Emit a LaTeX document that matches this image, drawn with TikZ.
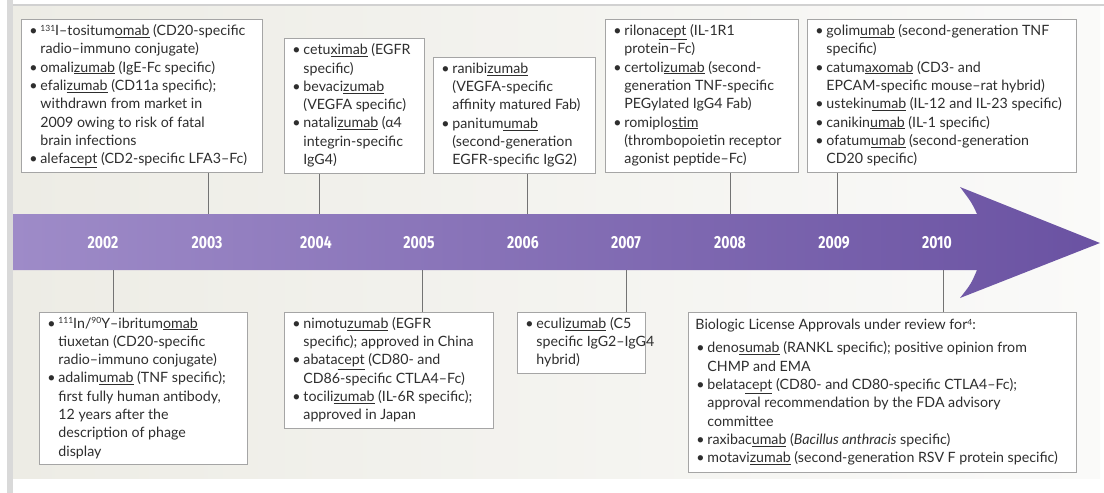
\documentclass[tikz,border=0pt]{standalone}
\usepackage{fontspec}
\setmainfont{Lato}
\newfontfamily\yearfont[FakeStretch=0.8]{Fira Sans}
\usetikzlibrary{calc}
\definecolor{bgL}{HTML}{EDECE5}
\definecolor{bgR}{HTML}{FAFAF9}
\definecolor{bandL}{HTML}{9E8BC8}
\definecolor{bandM}{HTML}{7B65AF}
\definecolor{bandR}{HTML}{6A52A2}
\definecolor{rim}{HTML}{A5A5A5}
\definecolor{ink}{HTML}{2E2E2E}

\newcommand{\itm}{\makebox[12pt][l]{\hspace*{1pt}\textbullet}}
\newcommand{\cnt}{\hspace*{12pt}}
\newcommand{\sups}[1]{\raisebox{0.6ex}{\fontsize{8.5}{8.5}\selectfont #1}}
\newcommand{\boxlines}[2]{\makebox[#1][l]{\begin{tabular}{@{}l@{}}#2\end{tabular}}}

\tikzset{
  infobox/.style={draw=rim, fill=white, line width=0.9pt, anchor=north west,
    inner xsep=7pt, inner ysep=0pt, text=ink,
    font=\fontsize{14.2}{18.3}\selectfont},
  tickline/.style={draw=black!55, line width=0.9pt},
  yearlabel/.style={text=white, font=\yearfont\bfseries\fontsize{17.5}{17.5}\selectfont},
}

\begin{document}
\begin{tikzpicture}[x=1pt, y=-1pt]
  \useasboundingbox (0,0) rectangle (1104,493);
  \def\Bt{214} \def\Bb{270}

  \fill[white] (0,0) rectangle (1104,493);
  \shade[left color=bgL, right color=bgR] (13,6) rectangle (1100,478);
  \fill[black!15] (7,0) rectangle (13,493);
  \draw[black!18, line width=1.5pt] (13,5) -- (1104,5);

  % timeline arrow
  \shade[left color=bandL, middle color=bandM, right color=bandR]
    (13,\Bt) -- (977,\Bt) .. controls (972,203) .. (960,187) -- (1100,243)
    -- (960,298) .. controls (971,284) .. (977,\Bb) -- (13,\Bb) -- cycle;

  \foreach \yr/\xx in {2002/103, 2003/207, 2004/316, 2005/419, 2006/523,
                       2007/626, 2008/730, 2009/834, 2010/937}
    \node[yearlabel] (y\yr) at (\xx,243) {\yr};

  \node[infobox, minimum height=153pt] (n2003) at (21,19) {\boxlines{227pt}{%
    \itm\sups{131}I--tositum\underline{omab} (CD20-specific\\
    \cnt radio--immuno conjugate)\\
    \itm omali\underline{zumab} (IgE-Fc specific)\\
    \itm efali\underline{zumab} (CD11a specific);\\
    \cnt withdrawn from market in\\
    \cnt 2009 owing to risk of fatal\\
    \cnt brain infections\\
    \itm alefa\underline{cept} (CD2-specific LFA3--Fc)}};

  \node[infobox, minimum height=135pt] (n2004) at (284,38) {\boxlines{126pt}{%
    \itm cetu\underline{ximab} (EGFR\\
    \cnt specific)\\
    \itm bevaci\underline{zumab}\\
    \cnt (VEGFA specific)\\
    \itm natali\underline{zumab} (α4\\
    \cnt integrin-specific\\
    \cnt IgG4)}};

  \node[infobox, minimum height=116pt] (n2006) at (433,57) {\boxlines{148pt}{%
    \itm ranibi\underline{zumab}\\
    \cnt (VEGFA-specific\\
    \cnt affinity matured Fab)\\
    \itm panitum\underline{umab}\\
    \cnt (second-generation\\
    \cnt EGFR-specific IgG2)}};

  \node[infobox, minimum height=153pt] (n2008) at (605,19) {\boxlines{179pt}{%
    \itm rilona\underline{cept} (IL-1R1\\
    \cnt protein--Fc)\\
    \itm certoli\underline{zumab} (second-\\
    \cnt generation TNF-specific\\
    \cnt PEGylated IgG4 Fab)\\
    \itm romiplo\underline{stim}\\
    \cnt (thrombopoietin receptor\\
    \cnt agonist peptide--Fc)}};

  \node[infobox, minimum height=153pt] (n2009) at (807,19) {\boxlines{255pt}{%
    \itm golim\underline{umab} (second-generation TNF\\
    \cnt specific)\\
    \itm catum\underline{axomab} (CD3- and\\
    \cnt EPCAM-specific mouse--rat hybrid)\\
    \itm ustekin\underline{umab} (IL-12 and IL-23 specific)\\
    \itm canikin\underline{umab} (IL-1 specific)\\
    \itm ofatum\underline{umab} (second-generation\\
    \cnt CD20 specific)}};

  \node[infobox, minimum height=152pt] (n2002) at (39,312) {\boxlines{194pt}{%
    \itm\sups{111}In/\sups{90}Y--ibritum\underline{omab}\\
    \cnt tiuxetan (CD20-specific\\
    \cnt radio--immuno conjugate)\\
    \itm adalim\underline{umab} (TNF specific);\\
    \cnt first fully human antibody,\\
    \cnt 12 years after the\\
    \cnt description of phage\\
    \cnt display}};

  \node[infobox, minimum height=116pt] (n2005) at (284,312) {\boxlines{195pt}{%
    \itm nimotu\underline{zumab} (EGFR\\
    \cnt specific); approved in China\\
    \itm abata\underline{cept} (CD80- and\\
    \cnt CD86-specific CTLA4--Fc)\\
    \itm tocili\underline{zumab} (IL-6R specific);\\
    \cnt approved in Japan}};

  \node[infobox, minimum height=61pt] (n2007) at (517,312) {\boxlines{114pt}{%
    \itm eculi\underline{zumab} (C5\\
    \cnt specific IgG2--IgG4\\
    \cnt hybrid)}};

  \node[infobox, minimum height=160pt] (n2010) at (688,312) {\boxlines{374pt}{%
    Biologic License Approvals under review for\sups{4}:\\[5pt]
    \itm deno\underline{sumab} (RANKL specific); positive opinion from\\
    \cnt CHMP and EMA\\
    \itm belata\underline{cept} (CD80- and CD80-specific CTLA4--Fc);\\
    \cnt approval recommendation by the FDA advisory\\
    \cnt committee\\
    \itm raxibac\underline{umab} (\textit{Bacillus anthracis} specific)\\
    \itm motavi\underline{zumab} (second-generation RSV F protein specific)}};

  % ticks from the band to the boxes
  \foreach \yr/\xx in {2003/208, 2004/319, 2006/527, 2008/730, 2009/837} {
    \coordinate (k\yr) at (\xx,\Bt);
    \draw[tickline] (k\yr) -- (k\yr |- n\yr.south);
  }
  \foreach \yr/\xx in {2002/113, 2005/422, 2007/626, 2010/943} {
    \coordinate (k\yr) at (\xx,\Bb);
    \draw[tickline] (k\yr) -- (k\yr |- n\yr.north);
  }
\end{tikzpicture}
\end{document}
